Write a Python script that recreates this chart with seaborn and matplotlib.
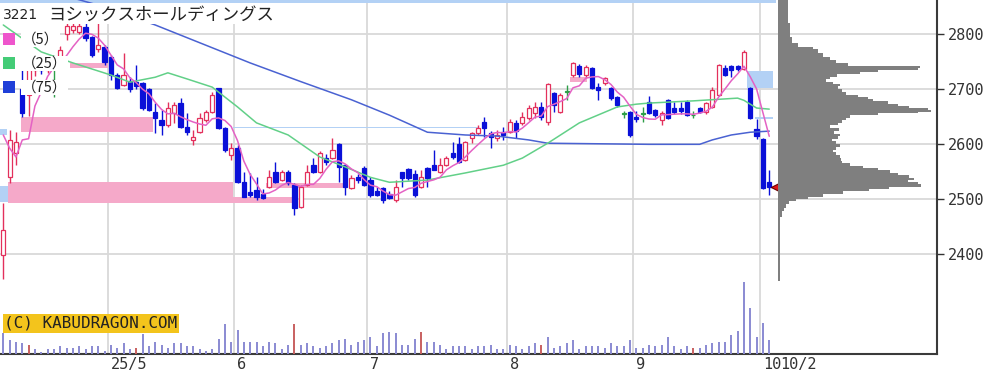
import numpy as np
import pandas as pd
import matplotlib
matplotlib.use("Agg")
import matplotlib.pyplot as plt
import matplotlib.transforms as mtransforms
from matplotlib.patches import Rectangle
import seaborn as sns

# daily candles, 2025/4 .. 2025/10/2
opens = [2398, 2540, 2584, 2700, 2690, 2735, 2745, 2735, 2740, 2752,
         2800, 2808, 2805, 2813, 2795, 2773, 2777, 2759, 2726, 2708,
         2715, 2713, 2711, 2700, 2659, 2644, 2635, 2657, 2675, 2631,
         2608, 2622, 2644, 2659, 2702, 2630, 2580, 2593, 2531, 2513,
         2517, 2510, 2522, 2550, 2535, 2550, 2526, 2486, 2526, 2562,
         2550, 2575, 2575, 2601, 2562, 2520, 2540, 2557, 2535, 2515,
         2520, 2510, 2498, 2550, 2555, 2546, 2522, 2557, 2562, 2550,
         2562, 2584, 2601, 2571, 2611, 2620, 2640, 2620, 2611, 2622,
         2622, 2638, 2638, 2648, 2657, 2668, 2640, 2693, 2659, 2695,
         2726, 2742, 2726, 2738, 2704, 2711, 2702, 2686, 2655, 2659,
         2650, 2655, 2677, 2662, 2644, 2680, 2666, 2666, 2677, 2653,
         2666, 2659, 2668, 2690, 2739, 2742, 2742, 2737, 2702, 2628,
         2610, 2531]
highs = [2493, 2626, 2622, 2740, 2745, 2750, 2752, 2752, 2752, 2778,
         2820, 2822, 2825, 2820, 2797, 2821, 2780, 2762, 2730, 2766,
         2722, 2744, 2713, 2702, 2675, 2662, 2677, 2677, 2684, 2657,
         2626, 2657, 2662, 2695, 2703, 2632, 2602, 2598, 2550, 2548,
         2540, 2519, 2553, 2568, 2553, 2553, 2530, 2526, 2562, 2575,
         2588, 2582, 2611, 2603, 2564, 2544, 2546, 2560, 2540, 2522,
         2522, 2515, 2535, 2550, 2557, 2553, 2553, 2558, 2590, 2575,
         2578, 2604, 2613, 2606, 2622, 2635, 2649, 2624, 2626, 2631,
         2646, 2644, 2659, 2671, 2677, 2677, 2711, 2695, 2693, 2708,
         2750, 2746, 2744, 2740, 2711, 2722, 2704, 2688, 2661, 2661,
         2660, 2668, 2688, 2664, 2660, 2682, 2677, 2677, 2680, 2660,
         2668, 2677, 2704, 2746, 2744, 2744, 2744, 2771, 2704, 2646,
         2612, 2553]
lows = [2355, 2530, 2562, 2650, 2652, 2725, 2728, 2730, 2686, 2739,
        2790, 2803, 2800, 2788, 2758, 2768, 2744, 2717, 2700, 2706,
        2695, 2700, 2662, 2660, 2621, 2617, 2631, 2638, 2630, 2617,
        2599, 2620, 2641, 2657, 2628, 2586, 2571, 2529, 2504, 2504,
        2499, 2500, 2520, 2529, 2533, 2526, 2471, 2484, 2524, 2548,
        2548, 2562, 2573, 2531, 2508, 2518, 2530, 2524, 2504, 2506,
        2493, 2500, 2496, 2522, 2536, 2504, 2520, 2522, 2553, 2548,
        2560, 2573, 2566, 2569, 2602, 2617, 2613, 2593, 2606, 2608,
        2620, 2611, 2635, 2644, 2648, 2645, 2635, 2659, 2657, 2681,
        2722, 2722, 2722, 2700, 2681, 2708, 2680, 2667, 2647, 2613,
        2640, 2640, 2655, 2650, 2635, 2646, 2655, 2655, 2651, 2648,
        2657, 2655, 2666, 2688, 2724, 2722, 2733, 2735, 2646, 2610,
        2518, 2508]
closes = [2444, 2608, 2604, 2657, 2738, 2742, 2735, 2745, 2740, 2772,
          2815, 2815, 2815, 2793, 2762, 2781, 2750, 2726, 2703, 2726,
          2700, 2706, 2666, 2662, 2648, 2635, 2666, 2671, 2631, 2622,
          2613, 2648, 2659, 2690, 2630, 2590, 2593, 2531, 2504, 2508,
          2504, 2502, 2540, 2531, 2550, 2530, 2484, 2522, 2550, 2550,
          2584, 2568, 2590, 2558, 2522, 2538, 2535, 2526, 2508, 2508,
          2498, 2502, 2522, 2538, 2538, 2508, 2540, 2538, 2553, 2562,
          2575, 2577, 2568, 2604, 2620, 2629, 2629, 2613, 2617, 2617,
          2640, 2625, 2649, 2666, 2668, 2650, 2710, 2671, 2690, 2695,
          2748, 2728, 2740, 2702, 2698, 2720, 2684, 2671, 2655, 2617,
          2646, 2655, 2657, 2653, 2657, 2648, 2659, 2660, 2653, 2653,
          2659, 2675, 2698, 2744, 2726, 2735, 2737, 2768, 2648, 2615,
          2520, 2522]
volume = [21, 14, 12, 11, 9, 5, 2, 5, 5, 8,
          6, 6, 8, 5, 8, 8, 3, 9, 6, 11,
          5, 6, 20, 8, 12, 9, 6, 11, 11, 8,
          8, 5, 3, 5, 15, 30, 12, 24, 12, 12,
          12, 8, 12, 11, 5, 9, 30, 9, 11, 8,
          6, 8, 11, 14, 15, 9, 12, 14, 17, 8,
          21, 22, 21, 9, 9, 15, 22, 12, 12, 9,
          5, 8, 8, 8, 5, 8, 8, 9, 5, 5,
          9, 8, 5, 8, 11, 9, 17, 6, 8, 11,
          14, 5, 8, 8, 8, 6, 11, 8, 8, 14,
          6, 6, 9, 8, 9, 17, 8, 5, 8, 6,
          6, 9, 11, 12, 12, 19, 23, 72, 46, 17,
          31, 14]
red_volume_days = [4, 21, 46, 66, 85, 109]

# moving averages
ma5_first = [2617, 2593, 2577, 2608]
ma25_idx = [0, 6, 11, 17, 20, 24, 26, 29, 33, 37, 40, 45, 50, 54, 58,
            61, 67, 73, 79, 82, 86, 91, 97, 100, 102, 109, 116, 117, 119, 121]
ma25_val = [2817, 2768, 2748, 2726, 2713, 2722, 2730, 2719, 2704, 2668,
            2639, 2617, 2577, 2559, 2540, 2531, 2535, 2548, 2562, 2575,
            2602, 2639, 2668, 2673, 2675, 2679, 2684, 2680, 2666, 2664]
ma75_idx = [11, 15, 24, 39, 47, 55, 61, 67, 73, 78, 83, 86, 102, 110,
            112, 115, 118, 121]
ma75_val = [2866, 2853, 2817, 2748, 2714, 2681, 2653, 2622, 2617, 2615,
            2608, 2602, 2600, 2600, 2608, 2617, 2622, 2624]

month_start = [17, 37, 58, 80, 100, 120]
month_labels = ["25/5", "6", "7", "8", "9", "10"]
last_label = "10/2"
price_ticks = [2400, 2500, 2600, 2700, 2800]

# gap zones (start idx, end idx, low, high)
zone_start = [2.8, 0.75, 36.3, 41.5, 10.5, 9.8, 89.5, -0.52, -0.52, 117.5, 118.7, 36.3, -0.52]
zone_end = [23.6, 36.3, 45.6, 54.0, 16.5, 12.4, 92.2, 0.75, 0.6, 121.6, 121.6, 75.0, 122.0]
zone_low = [2622, 2493, 2493, 2521, 2739, 2818, 2713, 2495, 2617, 2702, 2646, 2629, 2857]
zone_high = [2650, 2531, 2504, 2530, 2748, 2823, 2722, 2524, 2627, 2733, 2650, 2632, 2866]
zone_kind = ["up"] * 7 + ["down"] * 6

# volume by price
profile_price = [2352, 2400, 2460, 2475, 2482, 2488, 2494, 2499, 2503, 2507,
                 2512, 2517, 2521, 2525, 2529, 2533, 2537, 2541, 2546, 2550,
                 2555, 2559, 2563, 2568, 2573, 2578, 2583, 2588, 2593, 2598,
                 2603, 2608, 2612, 2617, 2622, 2627, 2632, 2637, 2641, 2646,
                 2651, 2655, 2658, 2661, 2664, 2668, 2672, 2676, 2680, 2684,
                 2688, 2693, 2699, 2704, 2708, 2712, 2716, 2720, 2725, 2729,
                 2733, 2737, 2741, 2745, 2750, 2755, 2762, 2770, 2775, 2780,
                 2790, 2800, 2815, 2825, 2840, 2862]
profile_vol = [2, 2, 2, 4, 6, 8, 11, 18, 30, 45,
               65, 91, 111, 143, 140, 130, 136, 131, 120, 112,
               100, 85, 72, 64, 63, 62, 58, 55, 58, 62,
               58, 54, 60, 62, 56, 61, 52, 60, 64, 68,
               72, 100, 140, 153, 150, 131, 120, 110, 95, 90,
               80, 68, 64, 60, 62, 55, 48, 52, 59, 82,
               100, 140, 142, 70, 58, 52, 45, 40, 35, 20,
               14, 12, 12, 10, 10, 10]

sns.set_theme(style="white")
plt.rcParams['font.family'] = ['DejaVu Sans', 'Noto Sans CJK JP']

df = pd.DataFrame({"open": opens, "high": highs, "low": lows, "close": closes, "volume": volume})
df["idx"] = np.arange(len(df))
ma5 = df["close"].rolling(5).mean()
ma5.iloc[:4] = ma5_first
n = len(df)

up_col, dn_col, flat_col = "#e3305c", "#0a10d8", "#2e9e48"
grid_col = "#d9d9d9"

W, H = 1004, 377
fig = plt.figure(figsize=(W / 100, H / 100), dpi=100)
ax_pos = [0, 23 / H, 937 / W, 354 / H]
ax = fig.add_axes(ax_pos)
ax.set_xlim(-0.52, 147.5)
ax.set_ylim(2218.8, 2862.4)

for p in price_ticks:
    ax.axhline(p, color=grid_col, lw=1.3, zorder=0)
for m in month_start:
    ax.axvline(m - 0.5, color=grid_col, lw=1.3, zorder=0)

for s, e, lo, hi, k in zip(zone_start, zone_end, zone_low, zone_high, zone_kind):
    ax.add_patch(Rectangle((s, lo), e - s, hi - lo, lw=0, zorder=1,
                           facecolor="#f5a9c9" if k == "up" else "#b3d1f5"))

o, c = df["open"].values, df["close"].values
cols = np.where(c > o, up_col, np.where(c < o, dn_col, flat_col))
ax.vlines(df["idx"], df["low"], df["high"], colors=cols, lw=1.0, zorder=3)
ax.bar(df["idx"], np.maximum(np.abs(c - o), 1.2), bottom=np.minimum(o, c), width=0.66,
       color=np.where(c > o, "white", cols), edgecolor=cols, linewidth=0.9, zorder=4)

sns.lineplot(x=ma75_idx, y=ma75_val, ax=ax, color="#4a62d2", lw=1.1, zorder=5, legend=False)
sns.lineplot(x=ma25_idx, y=ma25_val, ax=ax, color="#62d088", lw=1.1, zorder=5, legend=False)
sns.lineplot(x=df["idx"], y=ma5, ax=ax, color="#e462c4", lw=1.1, zorder=5, legend=False)
ax.set_xlabel("")
ax.set_ylabel("")

ax.scatter([n], [closes[-1]], marker="<", s=55, color="#e01818", edgecolor="#6a0000",
           linewidth=0.8, zorder=7, clip_on=False)

for sp in ["top", "left"]:
    ax.spines[sp].set_visible(False)
for sp in ["right", "bottom"]:
    ax.spines[sp].set_color("#3a3a3a")
    ax.spines[sp].set_linewidth(1.5)
ax.set_xticks([])
ax.yaxis.tick_right()
ax.set_yticks(price_ticks)
ax.tick_params(axis="y", direction="out", length=5, width=1, colors="#333333",
               labelsize=11, pad=3)
for t in ax.get_yticklabels():
    t.set_family("DejaVu Sans Mono")

trans = mtransforms.blended_transform_factory(ax.transData, ax.transAxes)
off = mtransforms.ScaledTranslation(3 / 100, 0, fig.dpi_scale_trans)
for m, lab in zip(month_start, month_labels):
    ax.text(m - 0.5, -0.031, lab, transform=trans + off, ha="left", va="center",
            fontsize=11, family="DejaVu Sans Mono", color="#333333", clip_on=False)
ax.text(n + 0.3, -0.031, last_label, transform=trans + off, ha="left", va="center",
        fontsize=11, family="DejaVu Sans Mono", color="#333333", clip_on=False)

# volume bars
axv = fig.add_axes(ax_pos)
axv.set_xlim(ax.get_xlim())
axv.set_ylim(0, 354)
axv.axis("off")
vcols = ["#c86060" if i in red_volume_days else "#8a8ad2" for i in df["idx"]]
axv.vlines(df["idx"], 0, df["volume"], colors=vcols, lw=1.4)

# volume profile
axp = fig.add_axes([778 / W, 23 / H, 159 / W, 354 / H])
axp.set_xlim(0, 159)
axp.set_ylim(ax.get_ylim())
axp.axis("off")
axp.fill_betweenx(profile_price, 0, profile_vol, step="mid", color="#7f7f7f", lw=0)


def fx(x):
    return x / W


def fy(y):
    return 1 - y / H


# title and legend
fig.patches.append(Rectangle((0, fy(24)), fx(278), 21 / H, transform=fig.transFigure,
                             facecolor="white", edgecolor="none", zorder=4))
fig.text(fx(3), fy(15), "3221", fontsize=10, color="#222222", va="center", zorder=5)
fig.text(fx(48), fy(14.5), "ヨシックスホールディングス", fontsize=12.5, color="#222222",
         va="center", family=["Noto Sans CJK JP", "DejaVu Sans"], zorder=5)

for y0, col, lab in [(33, "#ee55cc", "（5）"), (57, "#44cc77", "（25）"), (81, "#1f3fd8", "（75）")]:
    fig.patches.append(Rectangle((fx(3), fy(y0 + 12)), 12 / W, 12 / H, transform=fig.transFigure,
                                 facecolor=col, edgecolor="none", zorder=4))
    fig.text(fx(22), fy(y0 + 6.5), lab, fontsize=10.5, color="#222222", va="center",
             family=["Noto Sans CJK JP", "DejaVu Sans"], zorder=5,
             bbox=dict(facecolor="white", edgecolor="none", pad=0.5))

fig.text(fx(91), fy(323.5), "(C) KABUDRAGON.COM", ha="center", va="center",
         family="DejaVu Sans Mono", fontsize=11.5, color="#222222", zorder=6,
         bbox=dict(boxstyle="square,pad=0.1", facecolor="#f3c41c", edgecolor="none"))

fig.savefig("out.png", dpi=100)
